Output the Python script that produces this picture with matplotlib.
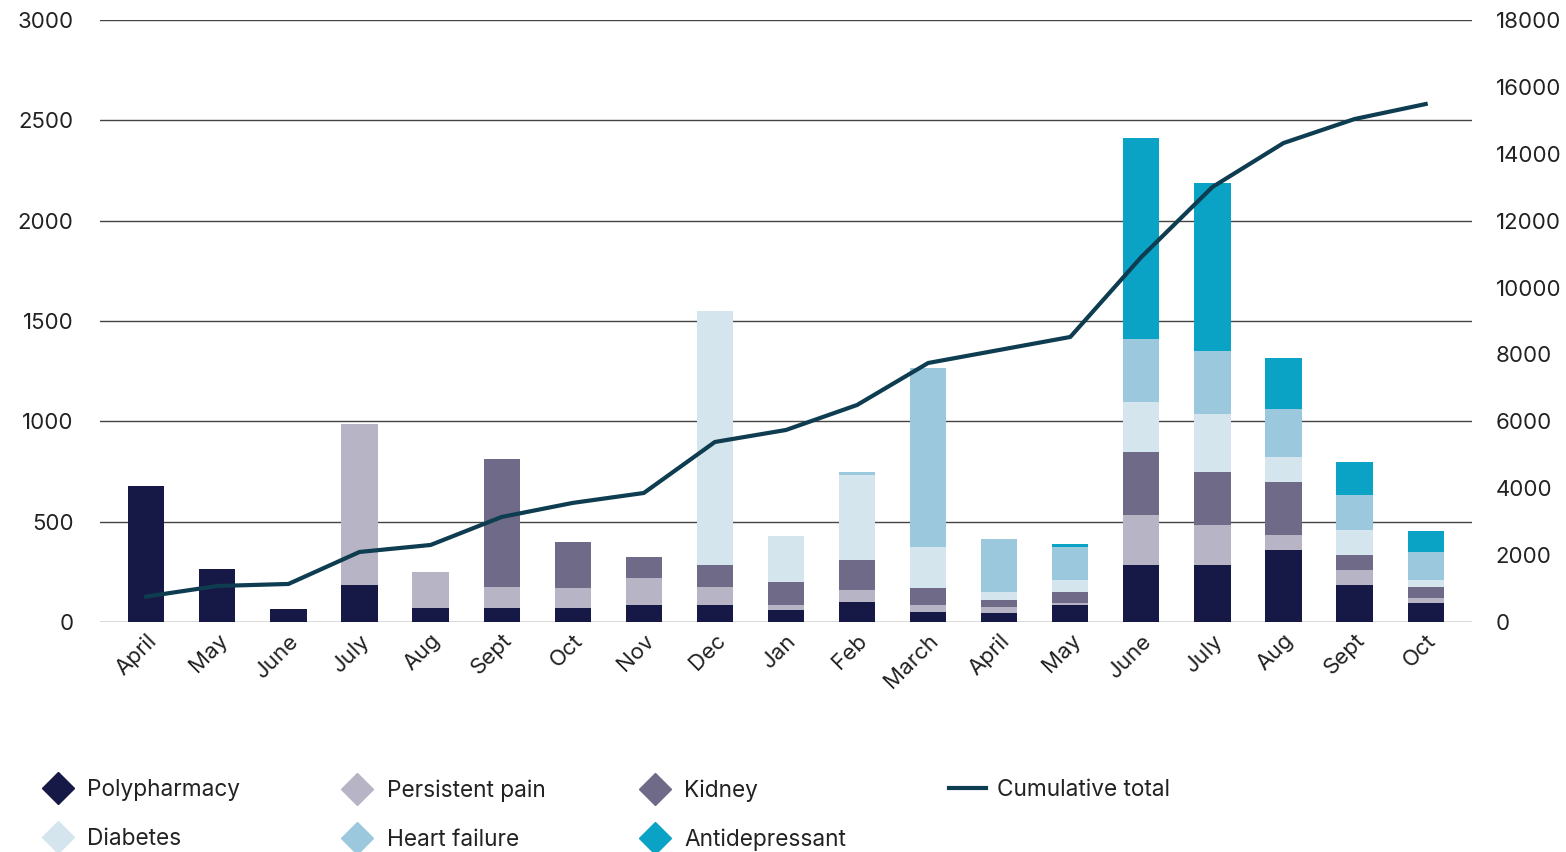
import numpy as np
import matplotlib
matplotlib.use("Agg")
import matplotlib.pyplot as plt
from matplotlib.lines import Line2D

plt.rcParams['font.family'] = ['Inter', 'DejaVu Sans']

months = ['April', 'May', 'June', 'July', 'Aug', 'Sept', 'Oct', 'Nov', 'Dec', 'Jan',
          'Feb', 'March', 'April', 'May', 'June', 'July', 'Aug', 'Sept', 'Oct']

polypharmacy = [680, 264, 65, 184, 70, 70, 70, 85, 85, 60, 100, 50, 45, 85, 284, 284, 359, 184, 95]
persistent_pain = [0, 0, 0, 803, 179, 104, 99, 134, 89, 25, 59, 35, 30, 10, 249, 199, 74, 75, 25]
kidney = [0, 0, 0, 0, 0, 638, 230, 105, 110, 114, 150, 84, 35, 54, 314, 264, 265, 75, 54]
diabetes = [0, 0, 0, 0, 0, 0, 0, 0, 1266, 229, 423, 205, 39, 60, 249, 289, 124, 124, 35]
heart_failure = [0, 0, 0, 0, 0, 0, 0, 0, 0, 0, 15, 891, 264, 165, 314, 314, 239, 175, 140]
antidepressant = [0, 0, 0, 0, 0, 0, 0, 0, 0, 0, 0, 0, 0, 15, 1002, 838, 255, 164, 104]
cumulative = [760, 1076, 1136, 2093, 2302, 3140, 3560, 3857, 5382, 5741, 6488, 7744,
              8133, 8522, 10914, 13007, 14322, 15040, 15488]

series = [
    ('Polypharmacy', polypharmacy, '#161846'),
    ('Persistent pain', persistent_pain, '#b7b5c5'),
    ('Kidney', kidney, '#6f6a88'),
    ('Diabetes', diabetes, '#d4e5ee'),
    ('Heart failure', heart_failure, '#9bc8dc'),
    ('Antidepressant', antidepressant, '#0aa3c6'),
]
line_color = '#0e3c50'
grid_color = '#444444'
text_color = '#222222'

fig = plt.figure(figsize=(15.66, 8.52), dpi=100)
ax = fig.add_axes([0.0639, 0.270, 0.876, 0.7065])
x = np.arange(len(months))

bottom = np.zeros(len(months))
for name, vals, col in series:
    vals = np.array(vals, dtype=float)
    ax.bar(x, vals, width=0.51, bottom=bottom, color=col, zorder=2)
    bottom += vals

ax.set_ylim(0, 3000)
ax.set_yticks(np.arange(0, 3001, 500))
ax.set_xlim(-0.65, 18.65)
ax.grid(axis='y', color=grid_color, lw=1, zorder=0)
ax.set_axisbelow(True)
for s in ax.spines.values():
    s.set_visible(False)
ax.tick_params(axis='y', length=0, pad=19, labelsize=16, labelcolor=text_color)
ax.tick_params(axis='x', length=0, pad=6, labelsize=16, labelcolor=text_color)
ax.set_xticks(x)
ax.set_xticklabels(months, rotation=45, ha='right', rotation_mode='anchor')

ax2 = ax.twinx()
ax2.plot(x, cumulative, color=line_color, lw=3, zorder=3)
ax2.set_ylim(0, 18000)
ax2.set_yticks(np.arange(0, 18001, 2000))
for s in ax2.spines.values():
    s.set_visible(False)
ax2.tick_params(axis='y', length=0, pad=17, labelsize=16, labelcolor=text_color)

# legend, one block per column
handles = [Line2D([], [], ls='none', marker='D', ms=16, color=c, label=n) for n, _, c in series]
line_h = Line2D([], [], color=line_color, lw=3, label='Cumulative total')
cols = [([handles[0], handles[3]], 0.0197),
        ([handles[1], handles[4]], 0.2107),
        ([handles[2], handles[5]], 0.4007),
        ([line_h], 0.6005)]
for hs, xpos in cols:
    fig.legend(handles=hs, loc='upper left', bbox_to_anchor=(xpos, 0.0751 + 0.0212), frameon=False,
               fontsize=16.3, handlelength=1.6, handletextpad=0.5, labelspacing=1.2,
               borderaxespad=0, labelcolor=text_color)

fig.savefig('out.png', dpi=100)
